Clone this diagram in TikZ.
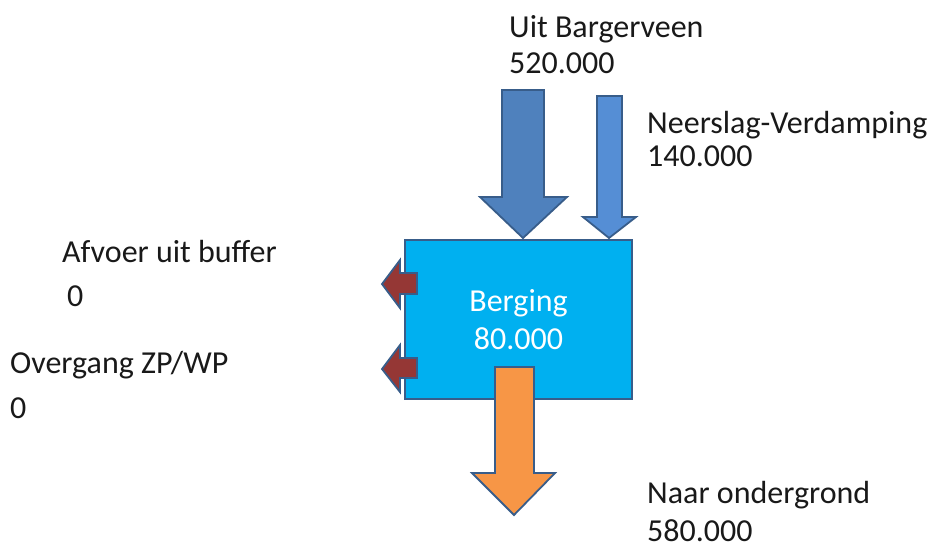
\documentclass[tikz,border=0pt]{standalone}
\usepackage{fontspec}
\setmainfont{Carlito}
\usepackage{tikz}
\usetikzlibrary{calc}
\definecolor{boxblue}{HTML}{00B0F0}
\definecolor{bigblue}{HTML}{4F81BD}
\definecolor{smallblue}{HTML}{558ED5}
\definecolor{flowor}{HTML}{F79646}
\definecolor{flowred}{HTML}{953735}
\definecolor{edgeblue}{HTML}{385D8A}
\tikzset{
	lbl/.style={anchor=base west, inner sep=0pt, font=\fontsize{32}{38}\selectfont, text=black!90},
	blk/.style={draw=edgeblue, line width=1.8pt, line join=miter}
}

\begin{document}
\begin{tikzpicture}[x=1pt, y=-1pt]
			%%%%% START %%%%%
			\useasboundingbox (0, 0) rectangle (931, 550);
			
			\node[blk, fill=boxblue, minimum width=227pt, minimum height=159pt, inner sep=0pt,
				text=white, align=center, font=\fontsize{32}{38}\selectfont] (berging) at (518.5, 319.5) {Berging\\80.000};
			
			% inflow from above
			\draw[blk, fill=bigblue] (502, 90) -- (544, 90) -- (544, 197) -- (567, 197) -- (523, 238)
				-- (480, 197) -- (502, 197) -- cycle;
			\draw[blk, fill=smallblue] (597, 96) -- (622, 96) -- (622, 217) -- (636, 217) -- (609, 238)
				-- (583, 217) -- (597, 217) -- cycle;
			
			% outflow to the left
			\draw[blk, fill=flowred] (417, 273) -- (400, 273) -- (400, 260) -- (382, 284) -- (400, 308)
				-- (400, 294) -- (417, 294) -- cycle;
			\draw[blk, fill=flowred] (417, 358) -- (400, 358) -- (400, 345) -- (382, 369) -- (400, 392)
				-- (400, 378) -- (417, 378) -- cycle;
			
			% outflow downwards
			\draw[blk, fill=flowor] (495, 367) -- (534, 367) -- (534, 473) -- (555, 473) -- (514, 515)
				-- (472, 473) -- (495, 473) -- cycle;
			
			\node[lbl] (uit) at (509, 37) {Uit Bargerveen};
			\node[lbl] (uitval) at (509, 73) {520.000};
			\node[lbl] (neer) at (647, 133) {Neerslag-Verdamping};
			\node[lbl] (neerval) at (647, 166) {140.000};
			\node[lbl] (afvoer) at (62, 262) {Afvoer uit buffer};
			\node[lbl] (afvoerval) at (67, 306) {0};
			\node[lbl] (overgang) at (10, 373) {Overgang ZP/WP};
			\node[lbl] (overgangval) at (10, 418) {0};
			\node[lbl] (naar) at (647, 503) {Naar ondergrond};
			\node[lbl] (naarval) at (647, 541) {580.000};
			
			%%%%% END %%%%%
		\end{tikzpicture}
\end{document}
